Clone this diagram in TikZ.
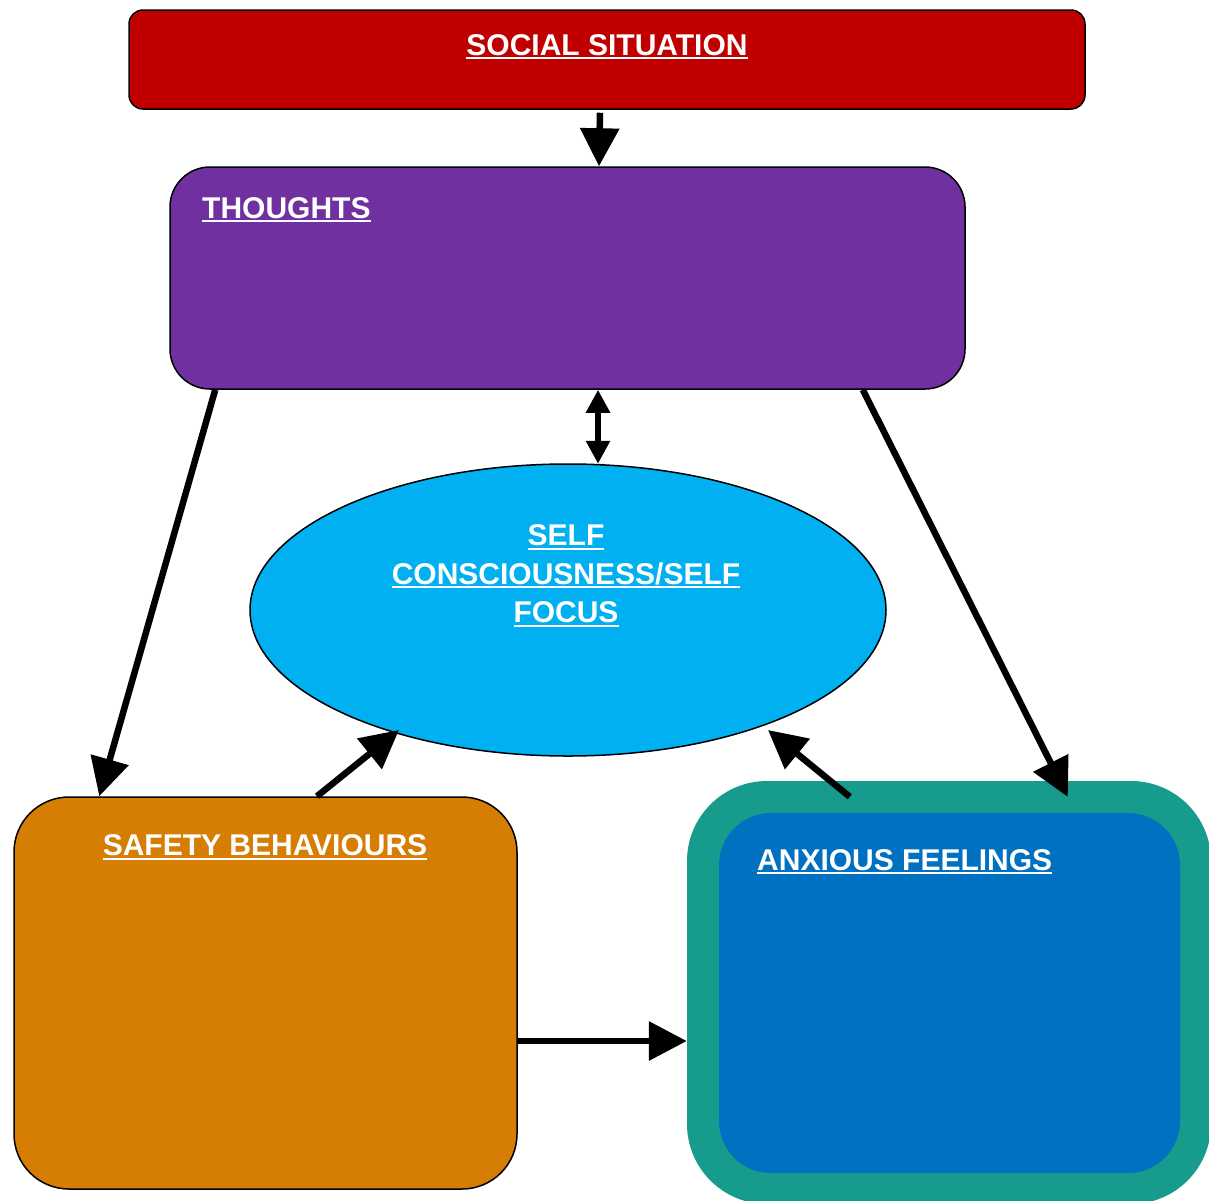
\documentclass[tikz,border=0pt]{standalone}
\usepackage{fontspec}
\setmainfont{Liberation Sans}
\usetikzlibrary{arrows.meta,shapes.geometric}
\definecolor{socred}{HTML}{C00000}
\definecolor{thpurple}{HTML}{7030A0}
\definecolor{sccyan}{HTML}{00B0F0}
\definecolor{sborange}{HTML}{D67D04}
\definecolor{afteal}{HTML}{179B8D}
\definecolor{afblue}{HTML}{0070C0}
\newsavebox\ulbox
\newcommand\ulx[1]{\sbox\ulbox{#1}\rlap{\rule[-4pt]{\wd\ulbox}{2pt}}\usebox\ulbox}
\tikzset{
  box/.style={draw=black, line width=1.5pt, inner sep=0pt, minimum width=#1},
  lbl/.style={text=white, font=\fontsize{30}{36}\selectfont\bfseries, inner sep=0pt},
  arr/.style={line width=6.5pt, -{Triangle[length=38pt,width=38pt]}},
  darr/.style={line width=6.5pt, {Triangle[length=23pt,width=23pt]}-{Triangle[length=23pt,width=23pt]}}
}
\begin{document}
\begin{tikzpicture}[x=1pt,y=-1pt]
\useasboundingbox (0,0) rectangle (1209,1200);
\clip (0,0) rectangle (1209,1200);
% boxes
\node[box=956pt, minimum height=99pt, rounded corners=14pt, fill=socred] (social) at (607,59.5) {};
\node[box=795pt, minimum height=222pt, rounded corners=40pt, fill=thpurple] (thoughts) at (567.5,278) {};
\node[draw=black, line width=1.5pt, ellipse, inner sep=0pt, minimum width=636pt, minimum height=292pt, fill=sccyan] (focus) at (568,610) {};
\node[box=503pt, minimum height=392pt, rounded corners=55pt, fill=sborange] (safety) at (265.5,993) {};
\node[inner sep=0pt, minimum width=524pt, minimum height=423pt, rounded corners=80pt, fill=afteal] (anxout) at (949,992.5) {};
\node[inner sep=0pt, minimum width=461pt, minimum height=360pt, rounded corners=52pt, fill=afblue] (anxin) at (949.5,993) {};
% labels
\node[lbl, anchor=base] (tsocial) at (607,55) {\ulx{SOCIAL SITUATION}};
\node[lbl, anchor=base west] (tthoughts) at (202,218) {\ulx{THOUGHTS}};
\node[lbl, anchor=base] (tf1) at (566,545.7) {\ulx{SELF}};
\node[lbl, anchor=base] (tf2) at (566,584.3) {\ulx{CONSCIOUSNESS/SELF}};
\node[lbl, anchor=base] (tf3) at (566,622.7) {\ulx{FOCUS}};
\node[lbl, anchor=base] (tsafety) at (265,855.7) {\ulx{SAFETY BEHAVIOURS}};
\node[lbl, anchor=base west] (tanx) at (757,870) {\ulx{ANXIOUS FEELINGS}};
% connectors
\draw[arr] ([xshift=-7pt,yshift=-3pt]social.south) -- ([xshift=31.5pt]thoughts.north);
\draw[darr] ([xshift=30.5pt]thoughts.south) -- ([xshift=30pt,yshift=-0.5pt]focus.north);
\draw[arr] ([xshift=46pt]thoughts.south west) -- ([xshift=86pt]safety.north west);
\draw[arr] ([xshift=-103pt]thoughts.south east) -- ([xshift=381pt,yshift=-16pt]anxout.north west);
\draw[arr] ([xshift=51.5pt]safety.north) -- ([xshift=-169pt,yshift=-120pt]focus.center);
\draw[arr] ([xshift=163pt,yshift=-16pt]anxout.north west) -- ([xshift=200pt,yshift=-120pt]focus.center);
\draw[arr] ([yshift=-48pt]safety.east) -- ([yshift=-48.5pt]anxout.west);
\end{tikzpicture}
\end{document}
